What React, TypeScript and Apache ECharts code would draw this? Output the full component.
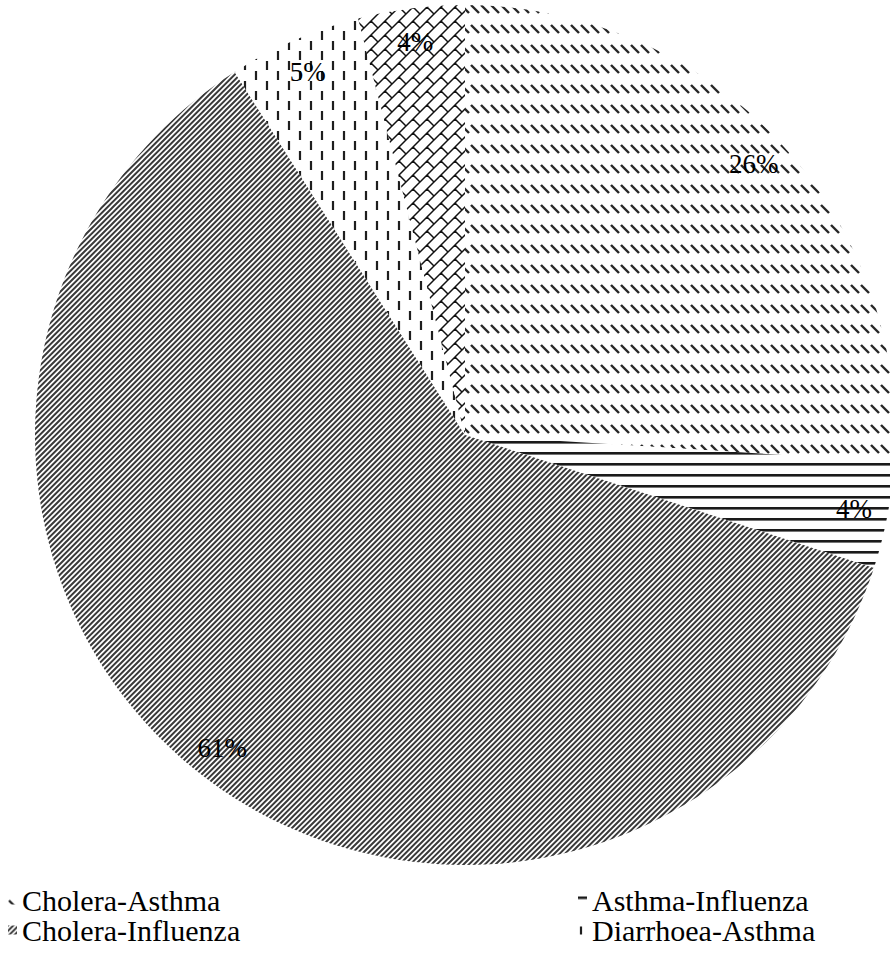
import React, { useEffect, useRef } from 'react';
import * as echarts from 'echarts';

const categories = ['Cholera-Asthma', 'Asthma-Influenza', 'Cholera-Influenza', 'Diarrhoea-Asthma', 'Diarrhoea-Influenza'];
const shares = [26, 4, 61, 5, 4];
const legendLeft = ['Cholera-Asthma', 'Cholera-Influenza'];
const legendRight = ['Asthma-Influenza', 'Diarrhoea-Asthma'];

const SERIF = 'Liberation Serif';

function tile(w: number, h: number, body: string) {
  const svg = `<svg xmlns="http://www.w3.org/2000/svg" width="${w}" height="${h}" viewBox="0 0 ${w} ${h}"><rect width="${w}" height="${h}" fill="#ffffff"/>${body}</svg>`;
  return {
    image: 'data:image/svg+xml;charset=utf-8,' + encodeURIComponent(svg),
    repeat: 'repeat',
    imageWidth: w,
    imageHeight: h,
  };
}

function diagStripes() {
  let d = '';
  for (let k = -1; k <= 7; k++) {
    const c = (k * 16) / 3;
    d += `M${-4} ${c + 4} L${c + 4} ${-4} `;
  }
  return tile(16, 16, `<path d="${d}" stroke="#3a3a3a" stroke-width="2" fill="none"/>`);
}

function brick() {
  let d = '';
  for (const dx of [-14, 0, 14]) {
    for (const dy of [-14, 0, 14]) {
      d += `M${dx} ${dy + 14} L${dx + 14} ${dy} M${dx + 7} ${dy + 7} L${dx + 14} ${dy + 14} `;
    }
  }
  return tile(14, 14, `<path d="${d}" stroke="#111111" stroke-width="1.5" fill="none"/>`);
}

const patterns = [
  tile(10, 20, `<path d="M1 5 L9 13" stroke="#262626" stroke-width="2.4" fill="none"/>`),
  tile(4, 11, `<rect x="0" y="1" width="4" height="2.6" fill="#1a1a1a"/>`),
  diagStripes(),
  tile(22, 20, `<path d="M3 1 V10 M14 11 V20" stroke="#1e1e1e" stroke-width="2.2" fill="none"/>`),
  brick(),
];

const legendText = { fontSize: 30, fontFamily: SERIF, color: '#000', lineHeight: 30 };

export default function App() {
  const ref = useRef<HTMLDivElement>(null);
  useEffect(() => {
    if (!ref.current) return;
    const chart = echarts.init(ref.current, null, { renderer: 'svg' });
    const center = [465, 435];
    chart.setOption({
      animation: false,
      backgroundColor: '#ffffff',
      textStyle: { fontFamily: SERIF },
      legend: [
        {
          orient: 'vertical', left: 8, top: 885, padding: 0, itemGap: 0,
          itemWidth: 9, itemHeight: 9, height: 120, icon: 'rect',
          data: legendLeft, textStyle: legendText, selectedMode: false,
        },
        {
          orient: 'vertical', left: 578, top: 885, padding: 0, itemGap: 0,
          itemWidth: 9, itemHeight: 9, height: 120, icon: 'rect',
          data: legendRight, textStyle: legendText, selectedMode: false,
        },
      ],
      series: [
        {
          type: 'pie',
          center,
          radius: [0, 430],
          startAngle: 90,
          clockwise: true,
          silent: true,
          label: { show: false },
          labelLine: { show: false },
          itemStyle: { borderWidth: 0 },
          data: categories.map((name, i) => ({ name, value: shares[i], itemStyle: { color: patterns[i] } })),
        },
        {
          type: 'pie',
          center,
          radius: [356, 430],
          startAngle: 90,
          clockwise: true,
          silent: true,
          avoidLabelOverlap: false,
          itemStyle: { color: 'transparent', borderWidth: 0 },
          labelLine: { show: false },
          label: {
            show: true,
            position: 'inside',
            formatter: (p: any) => p.value + '%',
            fontSize: 27,
            fontFamily: SERIF,
            color: '#000',
          },
          data: categories.map((name, i) => ({ name, value: shares[i] })),
        },
      ],
    });
    return () => chart.dispose();
  }, []);
  return (
    <div style={{ position: 'absolute', left: 0, top: 0, width: 890, height: 955, overflow: 'hidden' }}>
      <div ref={ref} style={{ width: 890, height: 955 }} />
    </div>
  );
}
